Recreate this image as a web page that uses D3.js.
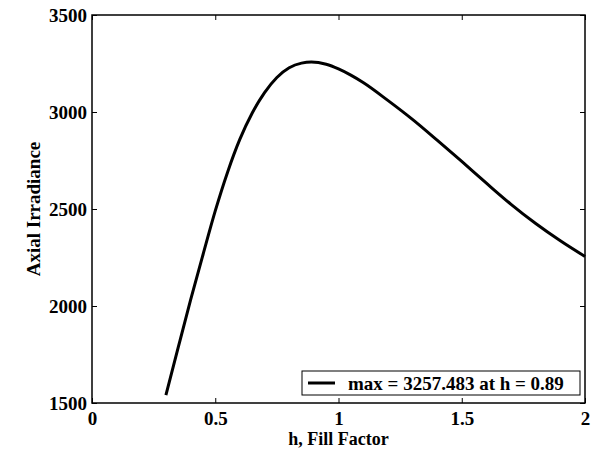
<!DOCTYPE html>
<html lang="en">
<head>
<meta charset="UTF-8">
<title>Axial Irradiance</title>
<script src="https://d3js.org/d3.v7.min.js"></script>
<style>
    body {margin: 0; background: white;}
    text {font-family: "Liberation Serif", "Times New Roman", serif; font-weight: bold; fill: black;}
</style>
</head>
<body>
<div id="chart"></div>
<script>
    // fill factor h and the axial irradiance
    var fillFactor = [0.3, 0.35, 0.4, 0.45, 0.5, 0.55, 0.6, 0.65, 0.7, 0.75, 0.8, 0.85, 0.89,
                      0.95, 1.0, 1.05, 1.1, 1.2, 1.3, 1.4, 1.5, 1.6, 1.7, 1.8, 1.9, 2.0];
    var irradiance = [1541, 1788, 2031, 2263, 2490, 2690, 2860, 2995, 3100, 3178, 3228, 3252, 3257.483,
                      3246, 3222, 3190, 3152, 3060, 2962, 2855, 2745, 2633, 2524, 2425, 2336, 2255];
    var xTicks = [0, 0.5, 1, 1.5, 2];
    var yTicks = [1500, 2000, 2500, 3000, 3500];
    var legendLabel = "max = 3257.483 at h = 0.89";

    var width = 600, height = 450;
    var margin = {top: 15, right: 15, bottom: 47, left: 92};
    var w = width - margin.left - margin.right,
        h = height - margin.top - margin.bottom;

    var x = d3.scaleLinear().domain([0, 2]).range([0, w]);
    var y = d3.scaleLinear().domain([1500, 3500]).range([h, 0]);

    var svg = d3.select("#chart").append("svg")
        .attr("width", width)
        .attr("height", height);

    var g = svg.append("g")
        .attr("transform", "translate(" + margin.left + "," + margin.top + ")");

    // axes, MATLAB style: inward ticks on all four sides
    function styleAxis(sel) {
        sel.select(".domain").remove();
        sel.selectAll(".tick line").attr("stroke", "black");
        sel.selectAll("text").style("font-size", "19px");
    }

    g.append("g")
        .attr("transform", "translate(0," + h + ")")
        .call(d3.axisBottom(x).tickValues(xTicks).tickSizeInner(-5).tickPadding(9).tickFormat(d3.format("")))
        .call(styleAxis);
    g.append("g")
        .call(d3.axisTop(x).tickValues(xTicks).tickSizeInner(-5).tickFormat(""))
        .call(styleAxis);
    g.append("g")
        .call(d3.axisLeft(y).tickValues(yTicks).tickSizeInner(-5).tickPadding(5).tickFormat(d3.format("d")))
        .call(styleAxis);
    g.append("g")
        .attr("transform", "translate(" + w + ",0)")
        .call(d3.axisRight(y).tickValues(yTicks).tickSizeInner(-5).tickFormat(""))
        .call(styleAxis);

    g.append("rect")
        .attr("width", w)
        .attr("height", h)
        .attr("fill", "none")
        .attr("stroke", "black")
        .attr("stroke-width", 1.5);

    var line = d3.line()
        .x(function(d, i) {return x(fillFactor[i]);})
        .y(function(d) {return y(d);})
        .curve(d3.curveMonotoneX);

    g.append("path")
        .datum(irradiance)
        .attr("d", line)
        .attr("fill", "none")
        .attr("stroke", "black")
        .attr("stroke-width", 3);

    // axis labels
    svg.append("text")
        .attr("x", margin.left + w / 2)
        .attr("y", 445)
        .attr("text-anchor", "middle")
        .style("font-size", "18px")
        .text("h, Fill Factor");

    svg.append("text")
        .attr("transform", "translate(40," + (margin.top + h / 2) + ") rotate(-90)")
        .attr("text-anchor", "middle")
        .style("font-size", "19px")
        .text("Axial Irradiance");

    // legend
    var legend = g.append("g")
        .attr("transform", "translate(" + (w - 283) + "," + (h - 32) + ")");
    legend.append("rect")
        .attr("width", 278)
        .attr("height", 24)
        .attr("fill", "white")
        .attr("stroke", "black")
        .attr("stroke-width", 1);
    legend.append("line")
        .attr("x1", 6).attr("x2", 33)
        .attr("y1", 12).attr("y2", 12)
        .attr("stroke", "black")
        .attr("stroke-width", 3);
    legend.append("text")
        .attr("x", 46)
        .attr("y", 19)
        .style("font-size", "19px")
        .text(legendLabel);
</script>
</body>
</html>
